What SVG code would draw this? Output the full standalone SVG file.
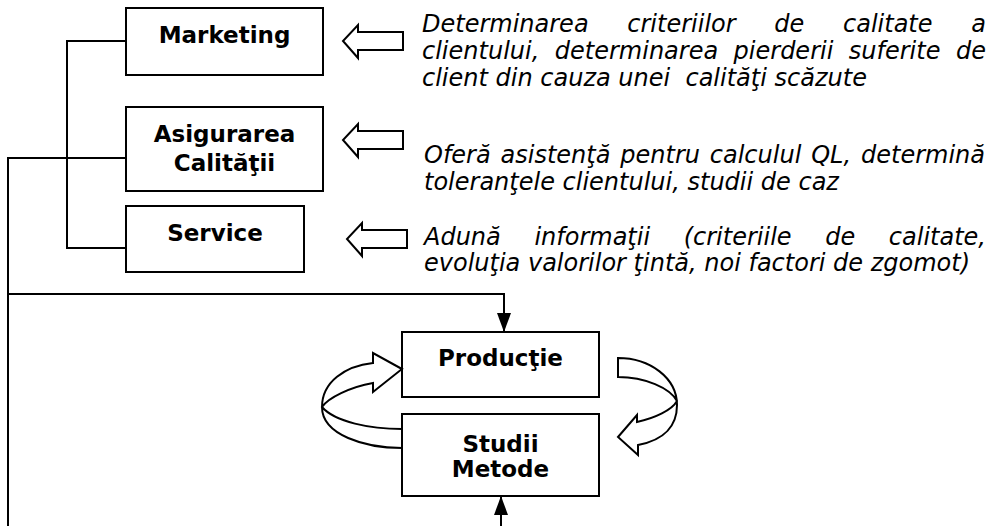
<svg xmlns="http://www.w3.org/2000/svg" xmlns:xlink="http://www.w3.org/1999/xlink" width="988" height="526" viewBox="0 0 988 526">
  <style>
    .box { fill: #fff; stroke: #000; stroke-width: 2; }
    .lbl { font-family: "DejaVu Sans", Verdana, sans-serif; font-weight: bold; font-size: 23px; text-anchor: middle; fill: #000; }
    .desc { font-family: "DejaVu Sans", Verdana, sans-serif; font-style: italic; font-size: 24px; fill: #000; white-space: pre; }
    .wire { fill: none; stroke: #000; stroke-width: 2; }
    .block { fill: #fff; stroke: #000; stroke-width: 2; stroke-linejoin: miter; }
  </style>
  <defs>
    <marker id="head" markerUnits="userSpaceOnUse" markerWidth="19" markerHeight="14" refX="19" refY="7" orient="auto">
      <path d="M0,0 L19,7 L0,14 Z" fill="#000"/>
    </marker>
    <!-- hollow block arrow pointing left, tip at origin -->
    <path id="hollow" d="M60,-9 H15 V-16 L0,0 L15,17 V9 H60 Z"/>
  </defs>
  <rect width="988" height="526" fill="#fff"/>

  <!-- connectors -->
  <g id="connectors">
    <path class="wire" d="M126,41 H67 V248 H126"/>
    <path class="wire" d="M126,158 H8 V526"/>
    <path class="wire" d="M8,294 H504 V332" marker-end="url(#head)"/>
    <path class="wire" d="M501,526 V496" marker-end="url(#head)"/>
  </g>

  <g id="marketing">
    <rect class="box" x="126" y="8" width="197" height="67"/>
    <text class="lbl" x="224.5" y="43">Marketing</text>
  </g>
  <g id="asigurarea">
    <rect class="box" x="126" y="107" width="197" height="84"/>
    <text class="lbl" x="224.5" y="142">Asigurarea</text>
    <text class="lbl" x="224.5" y="171">Calităţii</text>
  </g>
  <g id="service">
    <rect class="box" x="126" y="206" width="178" height="66"/>
    <text class="lbl" x="215" y="241">Service</text>
  </g>
  <g id="productie">
    <rect class="box" x="402" y="332" width="197" height="65"/>
    <text class="lbl" x="500.5" y="366">Producţie</text>
  </g>
  <g id="studii">
    <rect class="box" x="402" y="414" width="197" height="82"/>
    <text class="lbl" x="500.5" y="452">Studii</text>
    <text class="lbl" x="500.5" y="477">Metode</text>
  </g>

  <!-- hollow input arrows -->
  <g id="inputs" class="block">
    <use xlink:href="#hollow" x="343" y="41"/>
    <use xlink:href="#hollow" x="343" y="140"/>
    <use xlink:href="#hollow" x="347" y="239"/>
  </g>

  <!-- loop arrows between Producţie and Studii/Metode -->
  <g id="loop">
    <path class="block" d="M402,448 C365,448 322,435 322,407 C322,382 345,366 373,363 L373,353 L402,369 L373,392 L373,383 C350,387 328,398 322,407 C335,422 370,429 402,429 Z"/>
    <path class="block" d="M618,358 C650,358 677,378 677,405 C677,425 665,440 638,445 L638,455 L618,437 L637,415 L637,422 C655,418 672,410 677,401 C670,388 645,377 618,377 Z"/>
  </g>

  <!-- descriptions (justified lines laid out word by word) -->
  <g id="desc-marketing">
    <text class="desc" y="32"><tspan x="422">Determinarea</tspan><tspan x="627.3">criteriilor</tspan><tspan x="774.3">de</tspan><tspan x="843">calitate</tspan></text>
    <text class="desc" y="32" x="986" text-anchor="end">a</text>
    <text class="desc" y="59"><tspan x="422">clientului,</tspan><tspan x="554.8">determinarea</tspan><tspan x="733.6">pierderii</tspan><tspan x="848.8">suferite</tspan></text>
    <text class="desc" y="59" x="986" text-anchor="end">de</text>
    <text class="desc" x="422" y="86">client din cauza unei  calităţi scăzute</text>
  </g>
  <g id="desc-asigurarea">
    <text class="desc" y="163"><tspan x="424">Oferă</tspan><tspan x="500.5">asistenţă</tspan><tspan x="620.3">pentru</tspan><tspan x="709.8">calculul</tspan><tspan x="811.2">QL,</tspan></text>
    <text class="desc" y="163" x="985" text-anchor="end">determină</text>
    <text class="desc" x="424" y="190">toleranţele clientului, studii de caz</text>
  </g>
  <g id="desc-service">
    <text class="desc" y="245"><tspan x="424">Adună</tspan><tspan x="534.4">informaţii</tspan><tspan x="683.7">(criteriile</tspan><tspan x="825.2">de</tspan></text>
    <text class="desc" y="245" x="986" text-anchor="end">calitate,</text>
    <text class="desc" x="424" y="271">evoluţia valorilor ţintă, noi factori de zgomot)</text>
  </g>
</svg>
